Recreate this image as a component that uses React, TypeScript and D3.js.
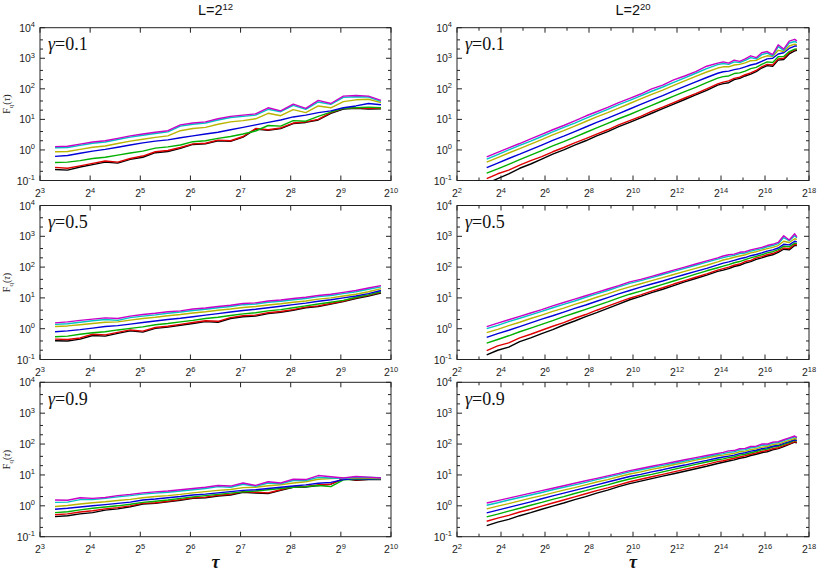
import React from "react";
import * as d3 from "d3";

// ---------- data ----------
const seriesColors = ["#000000", "#e00000", "#00b000", "#0000d8", "#b8b400", "#00c4c4", "#c800c8"];

// tau values as log2(tau)
const tauLeftLog2 = [3.3, 3.55, 3.8, 4.05, 4.3, 4.55, 4.8, 5.05, 5.3, 5.55, 5.8, 6.05, 6.3, 6.55, 6.8, 7.05, 7.3, 7.55, 7.8, 8.05, 8.3, 8.55, 8.8, 9.05, 9.3, 9.55, 9.8];
const tauRightLog2 = [3.35, 3.85, 4.35, 4.85, 5.35, 5.85, 6.35, 6.85, 7.35, 7.85, 8.35, 8.85, 9.35, 9.85, 10.35, 10.85, 11.35, 11.85, 12.35, 12.85, 13.35, 13.85, 14.1, 14.35, 14.6, 14.85, 15.1, 15.35, 15.6, 15.85, 16.1, 16.35, 16.6, 16.85, 17.1, 17.35, 17.45];

// F_q(tau) as log10 values; L = 2^12, gamma = 0.1
const tlBlack = [-0.64, -0.66, -0.56, -0.48, -0.40, -0.43, -0.31, -0.24, -0.09, -0.05, 0.05, 0.18, 0.20, 0.30, 0.28, 0.42, 0.68, 0.64, 0.70, 0.86, 0.90, 0.98, 1.20, 1.34, 1.36, 1.34, 1.35];
const tlRed = [-0.57, -0.60, -0.52, -0.44, -0.36, -0.40, -0.28, -0.20, -0.06, -0.02, 0.08, 0.20, 0.22, 0.32, 0.30, 0.44, 0.70, 0.66, 0.72, 0.88, 0.92, 1.00, 1.22, 1.36, 1.38, 1.36, 1.36];
const tlGreen = [-0.41, -0.40, -0.35, -0.28, -0.24, -0.17, -0.10, -0.04, 0.06, 0.10, 0.16, 0.27, 0.30, 0.38, 0.44, 0.52, 0.62, 0.80, 0.78, 0.96, 0.94, 1.10, 1.24, 1.36, 1.38, 1.40, 1.38];
const tlBlue = [-0.21, -0.18, -0.11, -0.04, 0.02, 0.09, 0.16, 0.23, 0.29, 0.33, 0.40, 0.46, 0.52, 0.58, 0.66, 0.74, 0.82, 0.90, 0.98, 1.08, 1.14, 1.22, 1.28, 1.38, 1.44, 1.52, 1.48];
const tlOlive = [-0.06, -0.05, 0.02, 0.09, 0.13, 0.21, 0.29, 0.35, 0.41, 0.46, 0.63, 0.70, 0.74, 0.84, 0.92, 0.96, 1.02, 1.20, 1.12, 1.32, 1.22, 1.44, 1.38, 1.58, 1.64, 1.66, 1.55];
const tlCyan = [0.07, 0.08, 0.15, 0.22, 0.26, 0.34, 0.42, 0.48, 0.54, 0.59, 0.78, 0.84, 0.88, 0.98, 1.06, 1.10, 1.14, 1.33, 1.25, 1.46, 1.33, 1.57, 1.49, 1.72, 1.74, 1.73, 1.59];
const tlMagenta = [0.11, 0.12, 0.19, 0.26, 0.30, 0.38, 0.46, 0.52, 0.58, 0.63, 0.82, 0.88, 0.92, 1.02, 1.10, 1.14, 1.18, 1.38, 1.28, 1.50, 1.36, 1.62, 1.52, 1.76, 1.78, 1.76, 1.62];

// L = 2^12, gamma = 0.5
const mlBlack = [-0.39, -0.40, -0.34, -0.22, -0.24, -0.15, -0.07, -0.11, 0.01, 0.05, 0.11, 0.17, 0.23, 0.21, 0.33, 0.39, 0.41, 0.49, 0.53, 0.60, 0.68, 0.72, 0.80, 0.88, 0.98, 1.06, 1.16];
const mlRed = [-0.34, -0.35, -0.30, -0.18, -0.20, -0.12, -0.04, -0.08, 0.04, 0.08, 0.14, 0.20, 0.26, 0.24, 0.36, 0.42, 0.44, 0.52, 0.56, 0.62, 0.70, 0.74, 0.82, 0.90, 1.00, 1.08, 1.18];
const mlGreen = [-0.26, -0.24, -0.18, -0.13, -0.10, -0.04, 0.01, 0.06, 0.13, 0.17, 0.22, 0.27, 0.33, 0.37, 0.43, 0.48, 0.52, 0.58, 0.62, 0.68, 0.74, 0.80, 0.86, 0.92, 1.02, 1.10, 1.20];
const mlBlue = [-0.10, -0.07, -0.03, 0.02, 0.07, 0.10, 0.15, 0.20, 0.25, 0.30, 0.34, 0.39, 0.44, 0.49, 0.54, 0.59, 0.63, 0.68, 0.73, 0.78, 0.83, 0.89, 0.94, 1.00, 1.06, 1.14, 1.24];
const mlOlive = [0.07, 0.09, 0.13, 0.17, 0.21, 0.22, 0.28, 0.33, 0.37, 0.42, 0.46, 0.51, 0.55, 0.60, 0.64, 0.69, 0.72, 0.77, 0.81, 0.86, 0.90, 0.96, 1.00, 1.06, 1.12, 1.20, 1.30];
const mlCyan = [0.14, 0.16, 0.21, 0.26, 0.30, 0.27, 0.36, 0.41, 0.45, 0.50, 0.54, 0.59, 0.63, 0.68, 0.72, 0.78, 0.80, 0.86, 0.89, 0.94, 0.98, 1.04, 1.08, 1.14, 1.20, 1.28, 1.36];
const mlMagenta = [0.19, 0.22, 0.27, 0.31, 0.35, 0.33, 0.41, 0.46, 0.50, 0.55, 0.58, 0.64, 0.67, 0.72, 0.76, 0.82, 0.84, 0.90, 0.93, 0.98, 1.02, 1.08, 1.12, 1.18, 1.24, 1.32, 1.40];

// L = 2^12, gamma = 0.9
const blBlack = [-0.35, -0.32, -0.26, -0.22, -0.14, -0.10, -0.03, 0.06, 0.08, 0.13, 0.18, 0.24, 0.26, 0.32, 0.35, 0.44, 0.41, 0.40, 0.50, 0.60, 0.61, 0.66, 0.70, 0.88, 0.83, 0.85, 0.85];
const blRed = [-0.29, -0.26, -0.20, -0.16, -0.10, -0.06, 0.00, 0.08, 0.10, 0.15, 0.20, 0.26, 0.28, 0.34, 0.37, 0.46, 0.44, 0.42, 0.52, 0.62, 0.63, 0.68, 0.70, 0.88, 0.84, 0.86, 0.86];
const blGreen = [-0.22, -0.19, -0.13, -0.08, -0.04, 0.00, 0.05, 0.11, 0.15, 0.19, 0.24, 0.29, 0.33, 0.37, 0.41, 0.45, 0.48, 0.52, 0.56, 0.60, 0.62, 0.66, 0.62, 0.84, 0.86, 0.86, 0.87];
const blBlue = [-0.11, -0.08, -0.04, 0.00, 0.04, 0.08, 0.12, 0.19, 0.22, 0.26, 0.30, 0.35, 0.38, 0.42, 0.46, 0.50, 0.52, 0.56, 0.60, 0.64, 0.68, 0.73, 0.76, 0.85, 0.88, 0.87, 0.88];
const blOlive = [-0.02, 0.01, 0.06, 0.10, 0.13, 0.17, 0.21, 0.26, 0.30, 0.33, 0.37, 0.42, 0.46, 0.50, 0.53, 0.59, 0.60, 0.65, 0.68, 0.74, 0.78, 0.86, 0.88, 0.90, 0.91, 0.90, 0.89];
const blCyan = [0.11, 0.12, 0.20, 0.20, 0.24, 0.29, 0.33, 0.38, 0.41, 0.44, 0.48, 0.52, 0.56, 0.62, 0.60, 0.70, 0.63, 0.74, 0.71, 0.82, 0.82, 0.92, 0.90, 0.88, 0.93, 0.92, 0.91];
const blMagenta = [0.19, 0.18, 0.26, 0.24, 0.27, 0.33, 0.37, 0.42, 0.45, 0.48, 0.52, 0.56, 0.60, 0.66, 0.64, 0.74, 0.66, 0.78, 0.74, 0.86, 0.85, 0.98, 0.94, 0.90, 0.95, 0.93, 0.90];

// L = 2^20, gamma = 0.1
const trBlack = [-1.10, -0.94, -0.78, -0.60, -0.46, -0.30, -0.14, 0.00, 0.16, 0.30, 0.46, 0.60, 0.76, 0.90, 1.05, 1.20, 1.35, 1.50, 1.65, 1.80, 1.95, 2.12, 2.17, 2.20, 2.30, 2.34, 2.42, 2.48, 2.56, 2.68, 2.76, 2.74, 2.94, 2.96, 3.14, 3.24, 3.26];
const trRed = [-0.94, -0.78, -0.66, -0.50, -0.35, -0.22, -0.06, 0.08, 0.23, 0.37, 0.52, 0.66, 0.82, 0.96, 1.10, 1.26, 1.40, 1.55, 1.70, 1.84, 2.00, 2.16, 2.22, 2.26, 2.34, 2.38, 2.46, 2.52, 2.60, 2.72, 2.80, 2.78, 2.98, 3.00, 3.18, 3.28, 3.30];
const trGreen = [-0.76, -0.62, -0.47, -0.32, -0.17, -0.02, 0.13, 0.27, 0.42, 0.57, 0.72, 0.87, 1.02, 1.16, 1.31, 1.46, 1.61, 1.76, 1.91, 2.05, 2.20, 2.35, 2.40, 2.42, 2.50, 2.52, 2.58, 2.66, 2.70, 2.80, 2.88, 2.86, 3.05, 3.06, 3.22, 3.30, 3.30];
const trBlue = [-0.58, -0.43, -0.28, -0.14, 0.01, 0.16, 0.31, 0.45, 0.60, 0.75, 0.90, 1.04, 1.19, 1.34, 1.49, 1.64, 1.78, 1.93, 2.08, 2.23, 2.37, 2.51, 2.56, 2.58, 2.63, 2.66, 2.72, 2.78, 2.82, 2.90, 2.98, 3.00, 3.14, 3.18, 3.32, 3.40, 3.40];
const trOlive = [-0.40, -0.25, -0.10, 0.04, 0.19, 0.34, 0.49, 0.63, 0.78, 0.93, 1.08, 1.22, 1.37, 1.52, 1.67, 1.82, 1.96, 2.11, 2.26, 2.41, 2.55, 2.68, 2.72, 2.72, 2.78, 2.80, 2.85, 2.92, 2.93, 3.02, 3.08, 3.06, 3.26, 3.22, 3.40, 3.46, 3.44];
const trCyan = [-0.30, -0.15, 0.00, 0.15, 0.29, 0.44, 0.59, 0.74, 0.88, 1.03, 1.18, 1.33, 1.48, 1.62, 1.77, 1.92, 2.06, 2.21, 2.36, 2.51, 2.66, 2.79, 2.83, 2.80, 2.88, 2.86, 2.93, 3.02, 2.98, 3.12, 3.17, 3.08, 3.38, 3.26, 3.50, 3.55, 3.51];
const trMagenta = [-0.23, -0.08, 0.07, 0.21, 0.36, 0.51, 0.66, 0.80, 0.95, 1.11, 1.25, 1.39, 1.55, 1.69, 1.83, 2.00, 2.12, 2.29, 2.42, 2.56, 2.74, 2.84, 2.88, 2.84, 2.94, 2.90, 2.98, 3.08, 3.02, 3.18, 3.22, 3.12, 3.44, 3.30, 3.56, 3.62, 3.57];

// L = 2^20, gamma = 0.5
const mrBlack = [-0.85, -0.70, -0.60, -0.42, -0.30, -0.16, -0.03, 0.12, 0.25, 0.39, 0.52, 0.66, 0.80, 0.94, 1.05, 1.17, 1.28, 1.40, 1.52, 1.63, 1.74, 1.86, 1.90, 1.95, 2.02, 2.06, 2.13, 2.18, 2.25, 2.30, 2.36, 2.40, 2.48, 2.58, 2.56, 2.70, 2.70];
const mrRed = [-0.71, -0.56, -0.46, -0.30, -0.18, -0.05, 0.08, 0.20, 0.34, 0.46, 0.60, 0.73, 0.86, 0.99, 1.10, 1.22, 1.33, 1.45, 1.56, 1.67, 1.78, 1.90, 1.95, 2.00, 2.06, 2.10, 2.18, 2.22, 2.30, 2.34, 2.40, 2.44, 2.52, 2.62, 2.60, 2.74, 2.72];
const mrGreen = [-0.47, -0.35, -0.23, -0.10, 0.02, 0.14, 0.26, 0.39, 0.51, 0.63, 0.75, 0.87, 1.00, 1.12, 1.22, 1.33, 1.44, 1.55, 1.66, 1.77, 1.88, 1.98, 2.03, 2.08, 2.14, 2.18, 2.24, 2.30, 2.35, 2.40, 2.46, 2.50, 2.57, 2.68, 2.66, 2.78, 2.76];
const mrBlue = [-0.28, -0.16, -0.05, 0.07, 0.19, 0.31, 0.42, 0.54, 0.66, 0.77, 0.89, 1.01, 1.13, 1.24, 1.35, 1.45, 1.55, 1.66, 1.76, 1.86, 1.96, 2.07, 2.13, 2.17, 2.22, 2.27, 2.31, 2.37, 2.41, 2.46, 2.52, 2.56, 2.62, 2.74, 2.72, 2.84, 2.82];
const mrOlive = [-0.13, -0.02, 0.10, 0.21, 0.33, 0.44, 0.56, 0.67, 0.79, 0.90, 1.02, 1.13, 1.25, 1.36, 1.46, 1.56, 1.66, 1.76, 1.86, 1.96, 2.06, 2.17, 2.23, 2.27, 2.32, 2.36, 2.40, 2.46, 2.50, 2.55, 2.60, 2.64, 2.70, 2.84, 2.80, 2.92, 2.90];
const mrCyan = [0.00, 0.11, 0.23, 0.34, 0.45, 0.56, 0.68, 0.79, 0.90, 1.02, 1.13, 1.24, 1.36, 1.47, 1.56, 1.66, 1.76, 1.86, 1.96, 2.06, 2.16, 2.26, 2.31, 2.35, 2.38, 2.44, 2.46, 2.52, 2.56, 2.60, 2.66, 2.70, 2.76, 2.96, 2.86, 3.02, 2.95];
const mrMagenta = [0.07, 0.18, 0.29, 0.40, 0.51, 0.62, 0.74, 0.85, 0.96, 1.07, 1.18, 1.29, 1.40, 1.52, 1.60, 1.70, 1.80, 1.90, 2.00, 2.10, 2.20, 2.30, 2.36, 2.40, 2.42, 2.48, 2.50, 2.56, 2.60, 2.64, 2.70, 2.74, 2.80, 3.02, 2.88, 3.08, 2.98];

// L = 2^20, gamma = 0.9
const brBlack = [-0.64, -0.53, -0.44, -0.32, -0.22, -0.11, -0.01, 0.09, 0.20, 0.30, 0.41, 0.51, 0.62, 0.72, 0.80, 0.88, 0.96, 1.04, 1.12, 1.20, 1.28, 1.37, 1.41, 1.45, 1.49, 1.54, 1.57, 1.63, 1.67, 1.72, 1.75, 1.81, 1.85, 1.92, 1.99, 2.06, 2.04];
const brRed = [-0.50, -0.40, -0.31, -0.20, -0.11, -0.01, 0.09, 0.19, 0.29, 0.39, 0.49, 0.58, 0.68, 0.78, 0.86, 0.94, 1.02, 1.10, 1.18, 1.26, 1.34, 1.43, 1.46, 1.50, 1.54, 1.58, 1.62, 1.67, 1.71, 1.76, 1.79, 1.85, 1.88, 1.95, 2.01, 2.08, 2.06];
const brGreen = [-0.36, -0.27, -0.17, -0.08, 0.02, 0.11, 0.21, 0.30, 0.40, 0.49, 0.59, 0.68, 0.78, 0.87, 0.95, 1.02, 1.10, 1.18, 1.26, 1.34, 1.42, 1.49, 1.52, 1.56, 1.59, 1.64, 1.67, 1.72, 1.76, 1.81, 1.84, 1.90, 1.93, 1.99, 2.05, 2.12, 2.10];
const brBlue = [-0.23, -0.14, -0.05, 0.04, 0.13, 0.23, 0.32, 0.41, 0.50, 0.59, 0.68, 0.77, 0.86, 0.95, 1.02, 1.10, 1.17, 1.25, 1.32, 1.40, 1.47, 1.55, 1.58, 1.61, 1.64, 1.69, 1.72, 1.77, 1.80, 1.85, 1.88, 1.93, 1.96, 2.02, 2.08, 2.14, 2.12];
const brOlive = [-0.10, -0.01, 0.07, 0.16, 0.25, 0.33, 0.42, 0.51, 0.59, 0.68, 0.77, 0.85, 0.94, 1.03, 1.10, 1.18, 1.25, 1.33, 1.40, 1.48, 1.55, 1.62, 1.64, 1.67, 1.70, 1.75, 1.77, 1.82, 1.85, 1.90, 1.92, 1.98, 2.00, 2.06, 2.12, 2.18, 2.16];
const brCyan = [0.02, 0.10, 0.19, 0.27, 0.35, 0.43, 0.52, 0.60, 0.68, 0.76, 0.85, 0.93, 1.01, 1.10, 1.17, 1.24, 1.31, 1.38, 1.45, 1.52, 1.59, 1.66, 1.69, 1.73, 1.75, 1.81, 1.82, 1.88, 1.90, 1.96, 1.97, 2.03, 2.05, 2.11, 2.17, 2.23, 2.20];
const brMagenta = [0.09, 0.17, 0.25, 0.33, 0.41, 0.49, 0.57, 0.65, 0.73, 0.81, 0.89, 0.97, 1.05, 1.14, 1.21, 1.28, 1.35, 1.42, 1.49, 1.56, 1.63, 1.70, 1.73, 1.78, 1.79, 1.85, 1.86, 1.92, 1.93, 2.00, 2.00, 2.06, 2.08, 2.14, 2.20, 2.26, 2.22];

const topLeft = [tlBlack, tlRed, tlGreen, tlBlue, tlOlive, tlCyan, tlMagenta];
const midLeft = [mlBlack, mlRed, mlGreen, mlBlue, mlOlive, mlCyan, mlMagenta];
const botLeft = [blBlack, blRed, blGreen, blBlue, blOlive, blCyan, blMagenta];
const topRight = [trBlack, trRed, trGreen, trBlue, trOlive, trCyan, trMagenta];
const midRight = [mrBlack, mrRed, mrGreen, mrBlue, mrOlive, mrCyan, mrMagenta];
const botRight = [brBlack, brRed, brGreen, brBlue, brOlive, brCyan, brMagenta];

const gammaLabels = ["0.1", "0.5", "0.9"];
const columnTitles = ["12", "20"]; // exponents of L = 2^n
const leftXExps = [3, 10];
const rightXExps = [2, 18];
const yExps = [-1, 4];

// ---------- layout ----------
const W = 817;
const H = 572;
const SANS = "Liberation Sans, Arial, Helvetica, sans-serif";
const SERIF = "Liberation Serif, Times New Roman, Times, serif";
const AXIS = "#222";

type PanelProps = {
  id: string;
  x0: number; x1: number; y0: number; y1: number;
  xExps: number[]; labelStep: number;
  tauLog2: number[]; series: number[][];
  gamma: string; yTitle: boolean;
};

function Panel({ id, x0, x1, y0, y1, xExps, labelStep, tauLog2, series, gamma, yTitle }: PanelProps) {
  const x = d3.scaleLog().base(2).domain([2 ** xExps[0], 2 ** xExps[1]]).range([x0, x1]);
  const y = d3.scaleLog().base(10).domain([10 ** yExps[0], 10 ** yExps[1]]).range([y1, y0]);
  const line = d3
    .line<number>()
    .x((_, i) => x(2 ** tauLog2[i]))
    .y((v) => y(10 ** v));

  const xTickExps = d3.range(xExps[0], xExps[1] + 1);
  const yDecades = d3.range(yExps[0], yExps[1] + 1);
  const yMinor: number[] = [];
  for (let k = yExps[0]; k < yExps[1]; k++) {
    yMinor.push(2 * 10 ** k, 4 * 10 ** k);
  }

  return (
    <g>
      <defs>
        <clipPath id={id}>
          <rect x={x0} y={y0} width={x1 - x0} height={y1 - y0} />
        </clipPath>
      </defs>
      <g clipPath={`url(#${id})`} fill="none" strokeWidth={1.4} strokeLinejoin="round">
        {series.map((s, i) => (
          <path key={i} d={line(s) || ""} stroke={seriesColors[i]} />
        ))}
      </g>
      <g stroke={AXIS} strokeWidth={1}>
        {xTickExps.map((k) => {
          const major = (k - xExps[0]) % labelStep === 0;
          const len = major ? 5 : 3;
          const px = x(2 ** k);
          return (
            <g key={`xt${k}`}>
              <line x1={px} x2={px} y1={y1} y2={y1 - len} />
              <line x1={px} x2={px} y1={y0} y2={y0 + len} />
            </g>
          );
        })}
        {yDecades.map((k) => {
          const py = y(10 ** k);
          return (
            <g key={`yt${k}`}>
              <line x1={x0} x2={x0 + 5} y1={py} y2={py} />
              <line x1={x1} x2={x1 - 5} y1={py} y2={py} />
            </g>
          );
        })}
        {yMinor.map((v, i) => {
          const py = y(v);
          return (
            <g key={`ym${i}`}>
              <line x1={x0} x2={x0 + 3} y1={py} y2={py} />
              <line x1={x1} x2={x1 - 3} y1={py} y2={py} />
            </g>
          );
        })}
      </g>
      <rect x={x0} y={y0} width={x1 - x0} height={y1 - y0} fill="none" stroke={AXIS} strokeWidth={1} />
      <g fontFamily={SANS} fill="#222" fontSize={10.5}>
        {xTickExps
          .filter((k) => (k - xExps[0]) % labelStep === 0)
          .map((k) => (
            <text key={`xl${k}`} x={x(2 ** k)} y={y1 + 16.5} textAnchor="middle">
              <tspan>2</tspan>
              <tspan dy={-4.5} fontSize={7.5}>{k}</tspan>
            </text>
          ))}
        {yDecades.map((k) => (
          <text key={`yl${k}`} x={x0 - 5} y={y(10 ** k) + 4} textAnchor="end">
            <tspan>10</tspan>
            <tspan dy={-4.5} fontSize={7.5}>{k}</tspan>
          </text>
        ))}
      </g>
      <text x={x0 + 8} y={y0 + 22.5} fontFamily={SERIF} fontSize={18} fill="#111">
        <tspan fontStyle="italic">γ</tspan>
        <tspan>={gamma}</tspan>
      </text>
      {yTitle && (
        <text
          transform={`translate(${10},${(y0 + y1) / 2}) rotate(-90)`}
          textAnchor="middle"
          fontFamily={SERIF}
          fontSize={10}
          fill="#222"
        >
          <tspan>F</tspan>
          <tspan dy={2.5} fontSize={7}>q</tspan>
          <tspan dy={-2.5}>(</tspan>
          <tspan fontStyle="italic">τ</tspan>
          <tspan>)</tspan>
        </text>
      )}
    </g>
  );
}

export default function App() {
  const cols = [
    { x0: 40, x1: 391, xExps: leftXExps, labelStep: 1, tau: tauLeftLog2, data: [topLeft, midLeft, botLeft] },
    { x0: 457, x1: 809, xExps: rightXExps, labelStep: 2, tau: tauRightLog2, data: [topRight, midRight, botRight] },
  ];
  const rows = [
    { y0: 27.7, y1: 180.5 },
    { y0: 205.5, y1: 359.5 },
    { y0: 382.3, y1: 536.7 },
  ];
  return (
    <svg
      width={W}
      height={H}
      viewBox={`0 0 ${W} ${H}`}
      style={{ position: "absolute", left: 0, top: 0, background: "#fff" }}
    >
      <rect width={W} height={H} fill="#fff" />
      {cols.map((c, ci) => (
        <g key={ci}>
          <text x={(c.x0 + c.x1) / 2} y={15} textAnchor="middle" fontFamily={SANS} fontSize={14.5} fill="#111">
            <tspan>L=2</tspan>
            <tspan dy={-5.5} fontSize={9.5}>{columnTitles[ci]}</tspan>
          </text>
          {rows.map((r, ri) => (
            <Panel
              key={ri}
              id={`clip-${ci}-${ri}`}
              x0={c.x0}
              x1={c.x1}
              y0={r.y0}
              y1={r.y1}
              xExps={c.xExps}
              labelStep={c.labelStep}
              tauLog2={c.tau}
              series={c.data[ri]}
              gamma={gammaLabels[ri]}
              yTitle={ci === 0}
            />
          ))}
          <text
            x={(c.x0 + c.x1) / 2}
            y={568}
            textAnchor="middle"
            fontFamily={SERIF}
            fontSize={18}
            fontStyle="italic"
            fontWeight="bold"
            fill="#111"
          >
            τ
          </text>
        </g>
      ))}
    </svg>
  );
}
